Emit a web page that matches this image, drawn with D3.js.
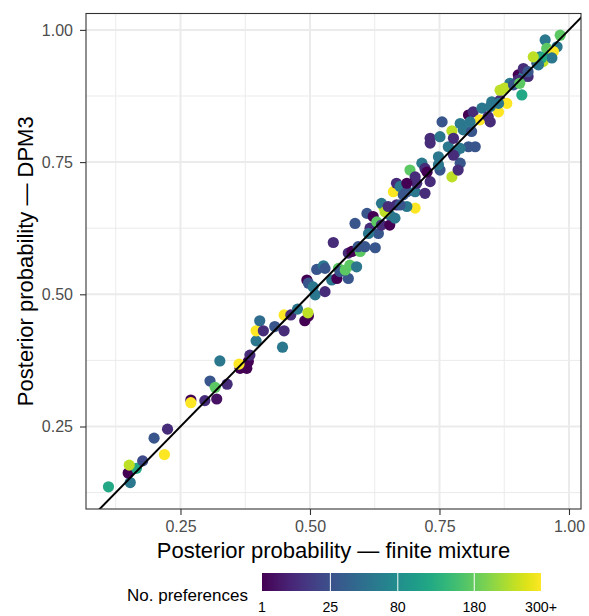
<!DOCTYPE html>
<html>
<head>
<meta charset="utf-8">
<script src="https://cdn.jsdelivr.net/npm/d3@7"></script>
<style>
  html, body { margin: 0; padding: 0; background: #ffffff; }
  svg { display: block; font-family: "Liberation Sans", Arial, Helvetica, sans-serif; }
</style>
</head>
<body>
<svg id="chart" width="589" height="616"></svg>
<script>
// ---- data ----
const finiteMixture = [
  0.111,0.153,0.149,0.165,0.151,0.177,0.219,0.199,0.225,0.270,0.270,0.297,0.320,0.307,0.317,0.340,0.326,
  0.365,0.375,0.381,0.384,0.378,0.363,0.396,0.396,0.403,0.410,0.432,0.450,0.447,0.450,0.463,0.476,0.490,
  0.497,0.496,0.494,0.497,0.510,0.506,0.529,0.513,0.526,0.529,0.542,0.552,0.555,0.558,0.574,0.568,0.577,
  0.590,0.545,0.587,0.574,0.581,0.597,0.593,0.606,0.626,0.610,0.616,0.622,0.629,0.632,0.613,0.638,0.642,
  0.638,0.654,0.654,0.664,0.667,0.693,0.716,0.661,0.667,0.674,0.680,0.687,0.703,0.706,0.703,0.722,0.732,
  0.722,0.703,0.687,0.674,0.645,0.774,0.790,0.786,0.751,0.748,0.767,0.780,0.732,0.755,0.774,0.806,0.815,
  0.832,0.828,0.848,0.864,0.851,0.867,0.790,0.732,0.751,0.777,0.796,0.812,0.806,0.819,0.790,0.748,0.777,
  0.726,0.909,0.886,0.876,0.867,0.902,0.912,0.921,0.938,0.944,0.954,0.950,0.880,0.864,0.848,0.844,0.809,
  0.954,0.983,0.957,0.977,0.970,0.967,0.947,0.941,0.931,0.912,0.921,0.902,0.893,0.905,0.651,0.687
];
const dpm3 = [
  0.136,0.144,0.162,0.171,0.177,0.185,0.197,0.228,0.245,0.300,0.295,0.299,0.302,0.336,0.324,0.330,0.374,
  0.360,0.366,0.373,0.385,0.360,0.368,0.412,0.431,0.450,0.431,0.439,0.431,0.400,0.461,0.461,0.472,0.450,
  0.459,0.465,0.527,0.521,0.499,0.514,0.505,0.547,0.554,0.549,0.527,0.530,0.549,0.543,0.530,0.546,0.555,
  0.552,0.598,0.634,0.578,0.581,0.581,0.590,0.590,0.588,0.653,0.625,0.647,0.637,0.615,0.615,0.631,0.666,
  0.672,0.631,0.650,0.644,0.669,0.735,0.748,0.694,0.710,0.704,0.688,0.694,0.694,0.710,0.722,0.738,0.713,
  0.691,0.663,0.666,0.669,0.656,0.722,0.748,0.735,0.735,0.760,0.779,0.767,0.786,0.826,0.809,0.839,0.845,
  0.852,0.830,0.826,0.845,0.864,0.867,0.823,0.795,0.798,0.795,0.811,0.808,0.779,0.779,0.776,0.745,0.763,
  0.731,0.877,0.899,0.890,0.886,0.915,0.912,0.912,0.937,0.949,0.949,0.940,0.861,0.861,0.855,0.836,0.826,
  0.981,0.990,0.965,0.968,0.959,0.947,0.947,0.934,0.949,0.927,0.921,0.905,0.896,0.899,0.666,0.710
];
const nPreferences = [
  117,56,1,117,246,22,300,29,9,1,300,9,3,29,175,9,56,
  1,1,1,9,1,300,56,300,45,9,29,9,56,300,9,56,1,
  1,246,1,29,56,56,9,29,56,29,56,1,175,29,29,175,175,
  56,9,29,9,1,175,29,29,29,29,9,1,175,29,56,9,246,
  56,1,56,56,9,175,56,300,9,56,29,29,56,9,9,9,9,
  9,300,56,29,246,246,29,9,29,56,56,56,9,29,246,1,9,
  56,300,9,300,56,9,56,9,56,9,56,29,29,29,56,56,9,
  1,117,56,246,246,1,56,9,29,56,117,246,300,56,56,9,56,
  56,175,175,56,300,56,117,56,246,9,29,9,29,175,9,1
];
const xTicks = [0.25, 0.50, 0.75, 1.00];
const yTicks = [0.25, 0.50, 0.75, 1.00];
const xMinor = [0.125, 0.375, 0.625, 0.875];
const yMinor = [0.125, 0.375, 0.625, 0.875];
const legendBreaks = [1, 25, 80, 180, 300];
const legendLabels = ["1", "25", "80", "180", "300+"];

// ---- layout ----
const svg = d3.select("#chart");
const P = { left: 86, right: 581, top: 13.5, bottom: 509 };
const x = d3.scaleLinear().domain([0.0676, 1.0232]).range([P.left, P.right]);
const y = d3.scaleLinear().domain([0.0940, 1.031]).range([P.bottom, P.top]);
const fmt = d3.format(".2f");

// colour: viridis on a sqrt scale of preference counts (1 .. 300+)
const cscale = d3.scaleSqrt().domain([1, 300]).range([0, 1]).clamp(true);
const color = n => d3.interpolateViridis(cscale(n));

svg.append("rect").attr("x", 0).attr("y", 0).attr("width", 589).attr("height", 616).attr("fill", "#fff");

const defs = svg.append("defs");
defs.append("clipPath").attr("id", "panelClip").append("rect")
  .attr("x", P.left).attr("y", P.top).attr("width", P.right - P.left).attr("height", P.bottom - P.top);

const grid = svg.append("g");
// minor grid
grid.selectAll(".mx").data(xMinor).join("line")
  .attr("x1", d => x(d)).attr("x2", d => x(d)).attr("y1", P.top).attr("y2", P.bottom)
  .attr("stroke", "#ebebeb").attr("stroke-width", 1);
grid.selectAll(".my").data(yMinor).join("line")
  .attr("y1", d => y(d)).attr("y2", d => y(d)).attr("x1", P.left).attr("x2", P.right)
  .attr("stroke", "#ebebeb").attr("stroke-width", 1);
// major grid
grid.selectAll(".Mx").data(xTicks).join("line")
  .attr("x1", d => x(d)).attr("x2", d => x(d)).attr("y1", P.top).attr("y2", P.bottom)
  .attr("stroke", "#ebebeb").attr("stroke-width", 2);
grid.selectAll(".My").data(yTicks).join("line")
  .attr("y1", d => y(d)).attr("y2", d => y(d)).attr("x1", P.left).attr("x2", P.right)
  .attr("stroke", "#ebebeb").attr("stroke-width", 2);

// points
const pts = finiteMixture.map((v, i) => ({ x: v, y: dpm3[i], n: nPreferences[i] }));
svg.append("g").attr("clip-path", "url(#panelClip)")
  .selectAll("circle").data(pts).join("circle")
  .attr("cx", d => x(d.x)).attr("cy", d => y(d.y)).attr("r", 5.6)
  .attr("fill", d => color(d.n));

// identity line
const lo = 0.0, hi = 1.1;
svg.append("g").attr("clip-path", "url(#panelClip)").append("line")
  .attr("x1", x(lo)).attr("y1", y(lo)).attr("x2", x(hi)).attr("y2", y(hi))
  .attr("stroke", "#000").attr("stroke-width", 2);

// panel border
svg.append("rect").attr("x", P.left).attr("y", P.top)
  .attr("width", P.right - P.left).attr("height", P.bottom - P.top)
  .attr("fill", "none").attr("stroke", "#333333").attr("stroke-width", 1.1);

// axes
const xAxis = svg.append("g").attr("transform", `translate(0,${P.bottom})`)
  .call(d3.axisBottom(x).tickValues(xTicks).tickFormat(fmt).tickSize(6).tickPadding(6));
const yAxis = svg.append("g").attr("transform", `translate(${P.left},0)`)
  .call(d3.axisLeft(y).tickValues(yTicks).tickFormat(fmt).tickSize(6).tickPadding(7));
[xAxis, yAxis].forEach(a => {
  a.select(".domain").remove();
  a.selectAll(".tick line").attr("stroke", "#333333").attr("stroke-width", 1.1);
  a.selectAll(".tick text").attr("fill", "#4d4d4d").attr("font-size", 16)
    .attr("font-family", "Liberation Sans, Arial, sans-serif");
});

// axis titles
svg.append("text").attr("x", (P.left + P.right) / 2).attr("y", 558)
  .attr("text-anchor", "middle").attr("font-size", 22).attr("fill", "#000")
  .text("Posterior probability \u2014 finite mixture");
svg.append("text")
  .attr("transform", `translate(33,${(P.top + P.bottom) / 2}) rotate(-90)`)
  .attr("text-anchor", "middle").attr("font-size", 22).attr("fill", "#000")
  .text("Posterior probability \u2014 DPM3");

// legend
const L = { x0: 262, x1: 541, y0: 573, h: 18 };
const grad = defs.append("linearGradient").attr("id", "vgrad").attr("x1", "0%").attr("x2", "100%");
d3.range(0, 1.0001, 0.05).forEach(t => {
  grad.append("stop").attr("offset", `${t * 100}%`).attr("stop-color", d3.interpolateViridis(t));
});
const lx = d3.scaleSqrt().domain([1, 300]).range([L.x0, L.x1]);
svg.append("rect").attr("x", L.x0).attr("y", L.y0).attr("width", L.x1 - L.x0).attr("height", L.h)
  .attr("fill", "url(#vgrad)");
svg.append("g").selectAll("line").data(legendBreaks.slice(1, -1)).join("line")
  .attr("x1", d => lx(d)).attr("x2", d => lx(d)).attr("y1", L.y0).attr("y2", L.y0 + L.h)
  .attr("stroke", "#fff").attr("stroke-width", 1);
svg.append("g").selectAll("text").data(legendBreaks).join("text")
  .attr("x", d => lx(d)).attr("y", 612).attr("text-anchor", "middle")
  .attr("font-size", 14.2).attr("fill", "#000")
  .text((d, i) => legendLabels[i]);
svg.append("text").attr("x", 127).attr("y", 601).attr("font-size", 17).attr("fill", "#000")
  .text("No. preferences");
</script>
</body>
</html>
